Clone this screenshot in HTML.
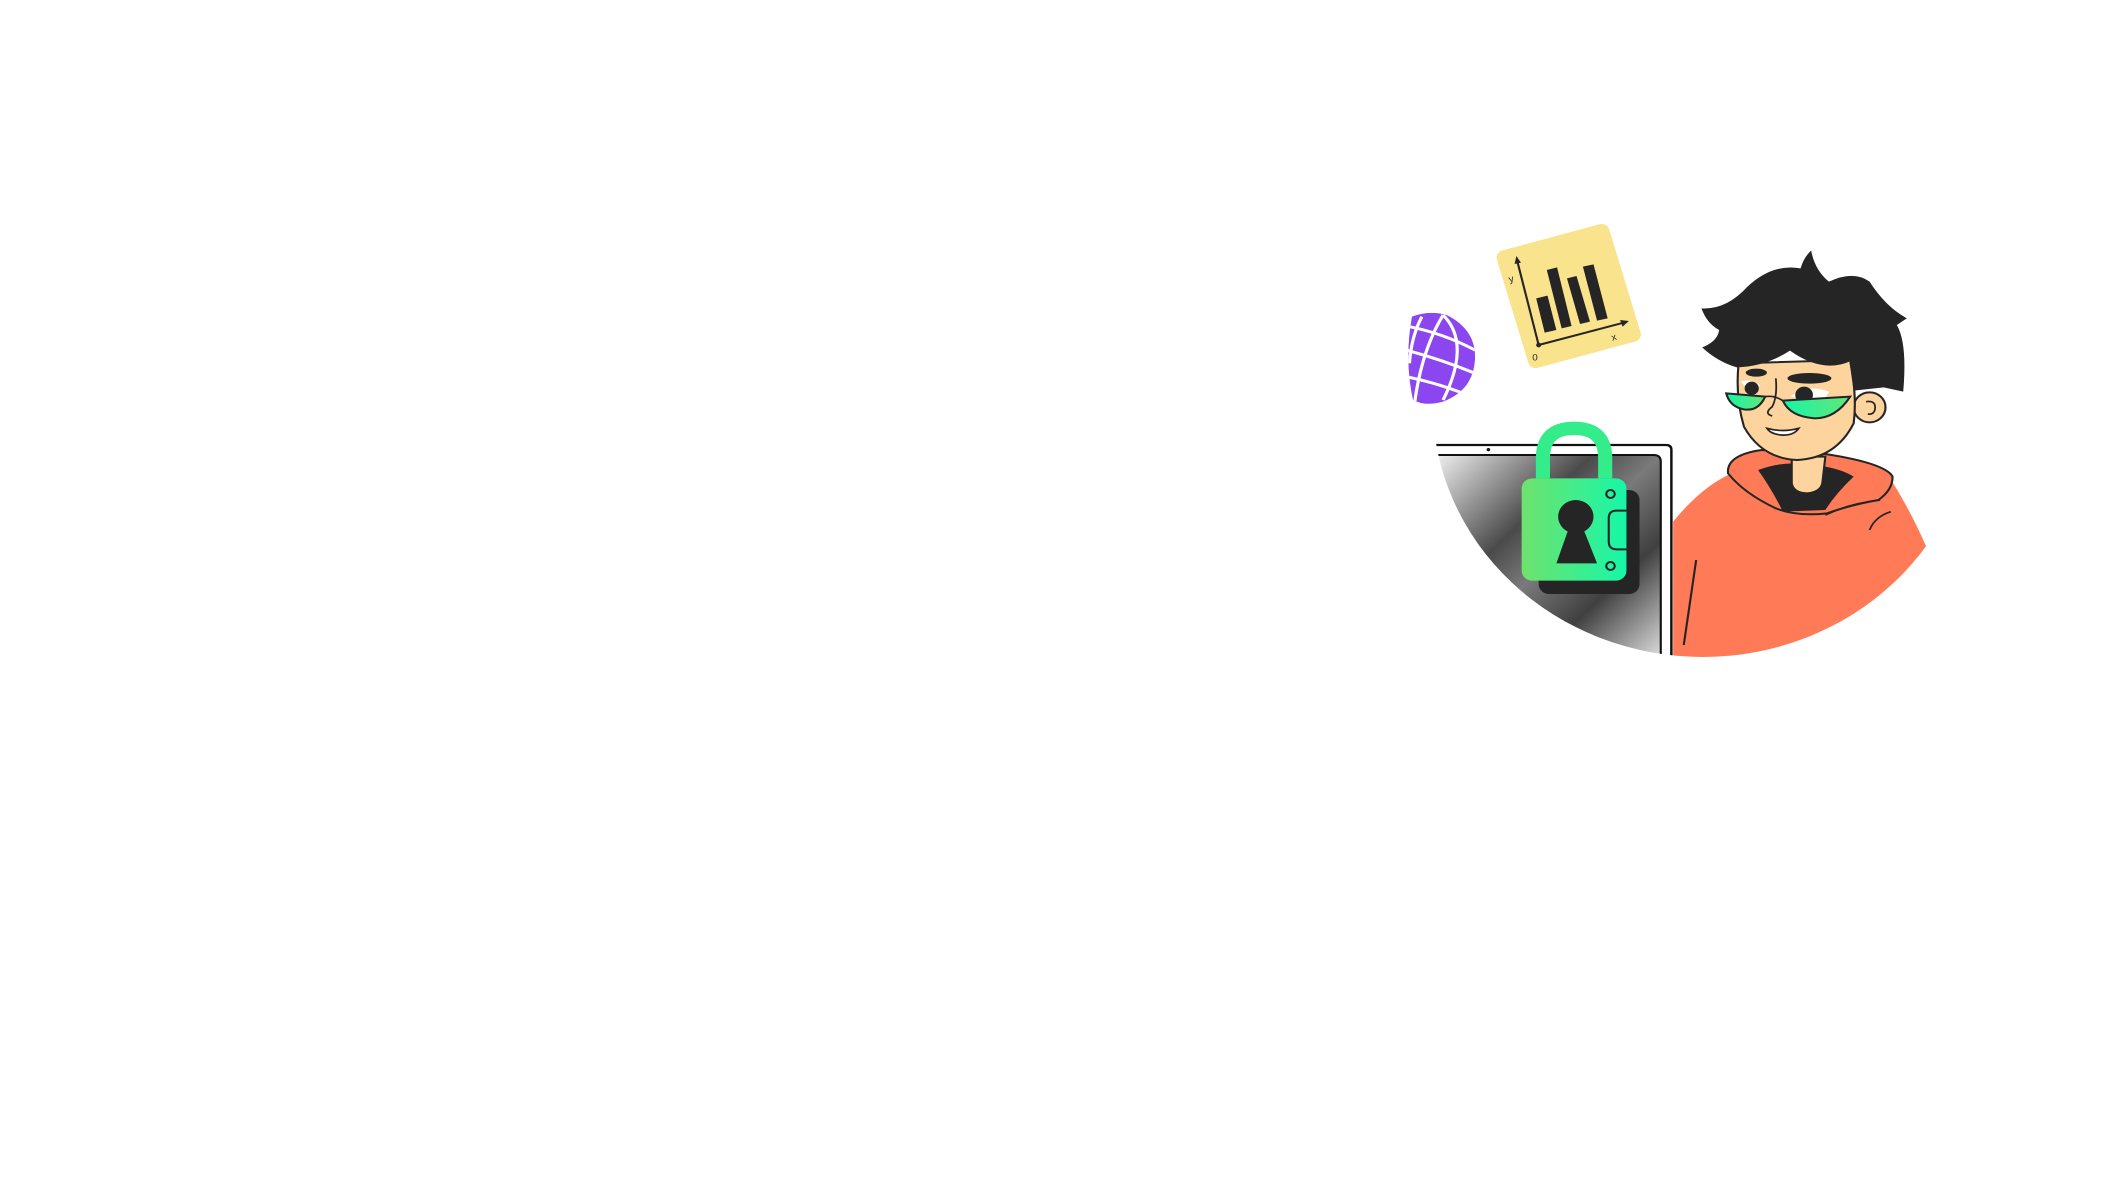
<!DOCTYPE html>
<html><head><meta charset="utf-8"><style>
html,body{margin:0;padding:0;background:#fff;width:2124px;height:1200px;overflow:hidden}
svg{position:absolute;left:1390px;top:210px}
</style></head><body>
<svg width="584" height="460" viewBox="0 0 1650 1380" preserveAspectRatio="none" xmlns="http://www.w3.org/2000/svg" font-family="Liberation Sans, sans-serif">
<defs>
<clipPath id="c"><circle cx="884" cy="577" r="764"/></clipPath>
<linearGradient id="scr" x1="0" y1="0" x2="1" y2="1">
<stop offset="0" stop-color="#f2f2f2"/><stop offset="0.35" stop-color="#4a4a4a"/><stop offset="0.5" stop-color="#7a7a7a"/><stop offset="0.7" stop-color="#404040"/><stop offset="1" stop-color="#eeeeee"/></linearGradient>
<linearGradient id="gr" x1="0" y1="0" x2="1" y2="0"><stop offset="0" stop-color="#6fe26d"/><stop offset="1" stop-color="#16f7a8"/></linearGradient>
<linearGradient id="gl" x1="0" y1="0" x2="1" y2="0"><stop offset="0" stop-color="#18f5a4"/><stop offset="1" stop-color="#62e67a"/></linearGradient>
<clipPath id="gc"><path d="M62,320 Q110,300 160,315 Q245,360 240,450 Q235,540 150,575 Q100,590 65,570 Q40,450 62,320Z"/></clipPath>
</defs>
<g clip-path="url(#gc)">
<rect x="30" y="290" width="230" height="310" fill="#8b46f0"/>
<g fill="none" stroke="#fff" stroke-width="9">
<path d="M150,315 Q90,420 70,575"/>
<path d="M150,315 Q230,400 150,570"/>
<path d="M55,350 Q150,370 240,420"/>
<path d="M45,420 Q150,450 240,490"/>
<path d="M45,500 Q140,520 230,560"/>
<path d="M90,320 Q60,380 55,460"/>
</g></g>
<g transform="translate(505,258) rotate(-16)">
<rect x="-165" y="-183" width="330" height="366" rx="22" fill="#f9e38c"/>
</g>
<g fill="#252525">
<polygon points="413,265 445,257 470,360 437,368"/>
<polygon points="443,180 472,172 513,348 485,355"/>
<polygon points="500,205 527,198 565,335 537,342"/>
<polygon points="545,170 575,163 615,325 585,332"/>
</g>
<g stroke="#252525" stroke-width="6" fill="none"><path d="M420,405 L360,155"/><path d="M420,405 L660,338"/></g>
<polygon points="352,162 357,138 370,158" fill="#252525"/>
<polygon points="650,330 675,333 657,350" fill="#252525"/>
<circle cx="420" cy="405" r="7" fill="#252525"/>
<text x="335" y="215" font-size="28" fill="#252525" transform="rotate(-16 345 205)">y</text>
<text x="625" y="390" font-size="28" fill="#252525" transform="rotate(-16 635 380)">x</text>
<text x="402" y="452" font-size="28" fill="#252525">0</text>
<g clip-path="url(#c)">
<path d="M110,705 L780,705 Q795,705 795,720 L795,1380" fill="none" stroke="#111" stroke-width="7"/>
<path d="M125,735 L745,735 Q765,735 765,755 L765,1380 L125,1380Z" fill="url(#scr)"/>
<path d="M125,735 L745,735 Q765,735 765,755 L765,1380" fill="none" stroke="#111" stroke-width="6"/>
<circle cx="278" cy="719" r="5" fill="#111"/>
<path d="M432,805 L432,745 Q432,655 520,655 Q608,655 608,745 L608,805" fill="none" stroke="#35ec8a" stroke-width="40"/>
<rect x="420" y="840" width="285" height="312" rx="30" fill="#252525"/>
<rect x="372" y="805" width="296" height="307" rx="30" fill="url(#gr)"/>
<circle cx="525" cy="920" r="50" fill="#252525"/>
<polygon points="470,1060 585,1060 540,940 510,940" fill="#252525"/>
<circle cx="623" cy="852" r="12" fill="none" stroke="#252525" stroke-width="6"/>
<circle cx="623" cy="1068" r="12" fill="none" stroke="#252525" stroke-width="6"/>
<path d="M668,902 L640,902 Q618,902 618,925 L618,995 Q618,1018 640,1018 L668,1018" fill="none" stroke="#252525" stroke-width="6"/>
<path d="M800,935 Q880,830 965,790 L1410,800 Q1470,900 1515,1010 L1515,1380 L800,1380Z" fill="#ff7b57"/>
<path d="M865,1050 L830,1305" stroke="#252525" stroke-width="6"/>
<path d="M955,790 Q950,735 1050,720 L1230,732 Q1400,760 1420,800 Q1420,840 1380,870 Q1300,885 1235,910 Q1150,920 1090,895 Q1000,850 955,790Z" fill="#ff7b57" stroke="#252525" stroke-width="6"/>
<path d="M1040,780 Q1090,760 1140,760 L1230,770 Q1280,780 1310,800 Q1260,850 1230,900 L1110,905 Q1080,840 1040,780Z" fill="#252525"/>
<path d="M1135,740 L1135,820 Q1140,850 1180,850 Q1220,845 1222,815 L1230,740Z" fill="#fdd49e" stroke="#252525" stroke-width="6"/>
<path d="M1230,915 Q1300,880 1385,870" fill="none" stroke="#252525" stroke-width="5"/>
<path d="M1355,960 Q1370,920 1415,905" fill="none" stroke="#252525" stroke-width="5"/>
</g>
<circle cx="1355" cy="592" r="45" fill="#fdd49e" stroke="#252525" stroke-width="6"/>
<path d="M1345,575 Q1375,570 1370,600 Q1365,615 1350,612" fill="none" stroke="#252525" stroke-width="5"/>
<path d="M985,460 Q975,560 1000,650 Q1050,745 1150,750 Q1260,745 1310,640 Q1320,560 1300,450 Z" fill="#fdd49e" stroke="#252525" stroke-width="6"/>
<path d="M880,295 Q950,300 1010,230 Q1080,160 1160,175 Q1170,140 1190,122 Q1200,180 1240,215 Q1310,180 1355,215 Q1400,290 1460,325 L1432,345 Q1462,400 1450,545 L1395,532 L1310,542 L1298,455 Q1220,490 1130,422 Q1060,470 980,472 Q925,455 882,412 Q925,395 930,360 Q895,340 880,295Z" fill="#252525"/>
<ellipse cx="1185" cy="505" rx="62" ry="16" fill="#252525"/>
<ellipse cx="1035" cy="488" rx="30" ry="12" fill="#252525"/>
<path d="M990,515 Q1020,505 1045,525 L1030,555 Z" fill="#fff"/>
<circle cx="1022" cy="535" r="20" fill="#252525"/>
<path d="M1130,560 Q1180,520 1240,545 L1225,575 Z" fill="#fff"/>
<circle cx="1170" cy="555" r="25" fill="#252525"/>
<path d="M1090,505 Q1095,560 1080,590 Q1055,610 1080,618" fill="none" stroke="#252525" stroke-width="5"/>
<path d="M950,550 L1060,560 Q1040,605 1000,598 Q960,590 950,550Z" fill="url(#gl)" stroke="#252525" stroke-width="6"/>
<path d="M1110,572 L1300,560 Q1260,625 1200,625 Q1130,620 1110,572Z" fill="url(#gl)" stroke="#252525" stroke-width="6"/>
<path d="M1060,560 Q1085,555 1110,572" fill="none" stroke="#252525" stroke-width="5"/>
<path d="M1065,655 Q1110,668 1155,655 Q1140,678 1105,675 Q1075,672 1065,655Z" fill="#fff" stroke="#252525" stroke-width="5"/>
</svg>
</body></html>
